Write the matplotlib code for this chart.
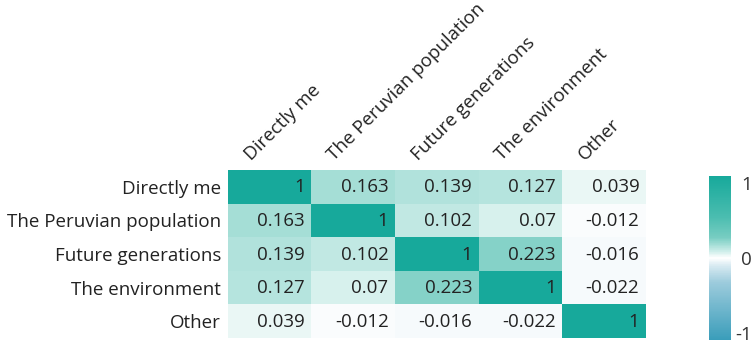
import numpy as np
import matplotlib
matplotlib.use("Agg")
import matplotlib.pyplot as plt
from matplotlib.colors import LinearSegmentedColormap, Normalize
import matplotlib.transforms as mtransforms
from matplotlib.cm import ScalarMappable

labels = ["Directly me", "The Peruvian population", "Future generations", "The environment", "Other"]
corr = [
    [1, 0.163, 0.139, 0.127, 0.039],
    [0.163, 1, 0.102, 0.07, -0.012],
    [0.139, 0.102, 1, 0.223, -0.016],
    [0.127, 0.07, 0.223, 1, -0.022],
    [0.039, -0.012, -0.016, -0.022, 1],
]
cell_text = [
    ["1", "0.163", "0.139", "0.127", "0.039"],
    ["0.163", "1", "0.102", "0.07", "-0.012"],
    ["0.139", "0.102", "1", "0.223", "-0.016"],
    ["0.127", "0.07", "0.223", "1", "-0.022"],
    ["0.039", "-0.012", "-0.016", "-0.022", "1"],
]
cbar_ticks = [-1, 0, 1]

plt.rcParams['font.family'] = ['Open Sans', 'DejaVu Sans']
FS = 13.5

def node(v):
    return (v + 1) / 2

cmap = LinearSegmentedColormap.from_list("tealdiv", [
    (node(-1.0), "#3a9dba"),
    (node(-0.3), "#9ccbdc"),
    (node(-0.1), "#d6e9f1"),
    (node(0.0), "#ffffff"),
    (node(0.1), "#c4eae5"),
    (node(0.25), "#78cdc2"),
    (node(0.5), "#4bbdb0"),
    (node(1.0), "#17a99b"),
])
norm = Normalize(vmin=-1, vmax=1)

W, H = 756, 346
fig = plt.figure(figsize=(W / 100, H / 100), dpi=100)
ax = fig.add_axes([228 / W, 1 - 338 / H, (646 - 228) / W, (338 - 170) / H])
data = np.array(corr, dtype=float)
ax.imshow(data, cmap=cmap, norm=norm, aspect='auto', interpolation='nearest')
n = len(labels)
for i in range(n):
    for j in range(n):
        ax.text(j + 0.42, i + 0.02, cell_text[i][j], ha='right', va='center',
                fontsize=FS, color='#222222')
for s in ax.spines.values():
    s.set_visible(False)
ax.set_yticks(range(n))
ax.set_yticklabels(labels, fontsize=FS, color='#222222')
ax.tick_params(axis='y', length=0, pad=5)
ax.xaxis.tick_top()
ax.set_xticks(range(n))
ax.set_xticklabels(labels, fontsize=FS, color='#222222', rotation=45,
                   ha='left', va='baseline', rotation_mode='anchor')
ax.tick_params(axis='x', length=0, pad=0)
offset = mtransforms.ScaledTranslation(-19 / 100, 9 / 100, fig.dpi_scale_trans)
for lab in ax.get_xticklabels():
    lab.set_transform(lab.get_transform() + offset)

cax = fig.add_axes([709 / W, 1 - 340 / H, (731 - 709) / W, (340 - 176) / H])
sm = ScalarMappable(norm=Normalize(vmin=-1.09, vmax=1.09), cmap=cmap)
cb = fig.colorbar(sm, cax=cax, ticks=cbar_ticks)
cb.outline.set_visible(False)
cb.ax.tick_params(length=0, labelsize=FS, labelcolor='#333333', pad=15)
cb.ax.set_yticklabels([str(t) for t in cbar_ticks])
for lab in cb.ax.get_yticklabels():
    lab.set_horizontalalignment('right')

fig.savefig("out.png", dpi=100)
